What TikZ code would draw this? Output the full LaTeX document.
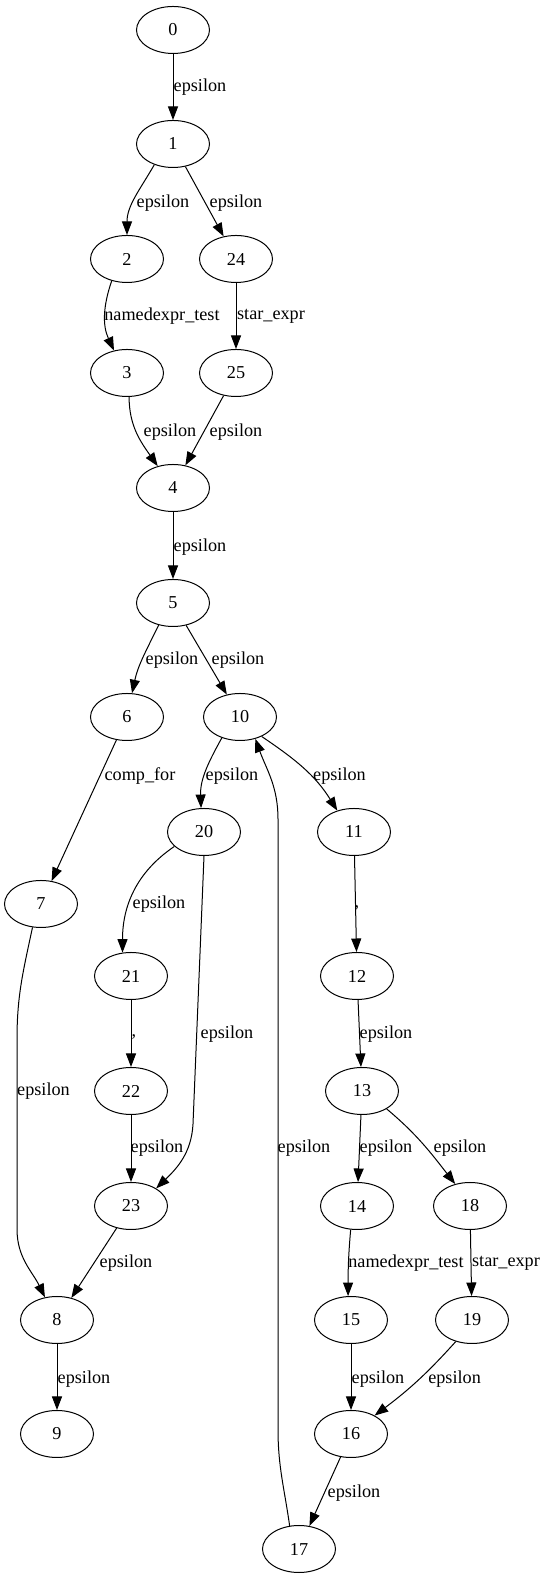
\documentclass[tikz,border=0pt]{standalone}
\usepackage{fontspec}
\setmainfont{Liberation Serif}
\usetikzlibrary{shapes.geometric, arrows.meta}

\begin{document}
\begin{tikzpicture}[x = 1pt, y = 1pt, font = \fontsize{18.2}{22}\selectfont,
    nfastate/.style = {ellipse, draw, line width = 1pt, minimum width = 73pt,
                       minimum height = 47pt, inner sep = 0pt},
    elabel/.style = {inner sep = 0pt},
    trans/.style = {line width = 1pt, -{Triangle[length = 13.5pt, width = 10pt]}}]
        \useasboundingbox (0,0) rectangle (545,1579);
        \node[nfastate] (n0) at (173,1549) {0};
        \node[nfastate] (n1) at (173,1435) {1};
        \node[nfastate] (n2) at (127,1320) {2};
        \node[nfastate] (n24) at (236,1320) {24};
        \node[nfastate] (n3) at (127,1206) {3};
        \node[nfastate] (n25) at (236,1206) {25};
        \node[nfastate] (n4) at (173,1091) {4};
        \node[nfastate] (n5) at (173,976) {5};
        \node[nfastate] (n6) at (127,862) {6};
        \node[nfastate] (n10) at (240,862) {10};
        \node[nfastate] (n20) at (204,747) {20};
        \node[nfastate] (n11) at (354,747) {11};
        \node[nfastate] (n7) at (41,675) {7};
        \node[nfastate] (n21) at (131,603) {21};
        \node[nfastate] (n12) at (357,603) {12};
        \node[nfastate] (n22) at (131,488) {22};
        \node[nfastate] (n13) at (362,488) {13};
        \node[nfastate] (n23) at (131,373) {23};
        \node[nfastate] (n14) at (357,373) {14};
        \node[nfastate] (n18) at (470,373) {18};
        \node[nfastate] (n8) at (57,259) {8};
        \node[nfastate] (n15) at (351,259) {15};
        \node[nfastate] (n19) at (472,259) {19};
        \node[nfastate] (n9) at (57,145) {9};
        \node[nfastate] (n16) at (351,145) {16};
        \node[nfastate] (n17) at (299,30) {17};
        \foreach \a/\b in {n0/n1, n1/n24, n24/n25, n25/n4, n4/n5, n5/n10, n6/n7,
                           n21/n22, n22/n23, n11/n12, n12/n13, n13/n14, n23/n8,
                           n18/n19, n8/n9, n15/n16, n16/n17}
          \draw[trans] (\a) -- (\b);
        \draw[trans] (n1.228) to[out=240, in=90] (n2.north);
        \draw[trans] (n2.235) to[out=251, in=115] (n3.120);
        \draw[trans] (n3.275) to[out=270, in=125] (n4.125);
        \draw[trans] (n5.237) to[out=244, in=78] (n6.78);
        \draw[trans] (n10.229) to[out=241, in=92] (n20.97);
        \draw[trans] (n10.318) to[out=326, in=122] (n11.128);
        \draw[trans] (n20.206) to[out=214, in=90] (n21.110);
        \draw[trans] (n20.south) -- (193,455) to[out=267, in=44] (n23.35);
        \draw[trans] (n17.112) to[out=98, in=270] (278,150) --
                     (278,760) to[out=90, in=290] (n10.305);
        \draw[trans] (n7.250) to[out=258, in=90] (17,540) --
                     (17,350) to[out=270, in=116] (n8.118);
        \draw[trans] (n13.324) to[out=320, in=128] (n18.124);
        \draw[trans] (n14.255) to[out=265, in=90] (n15.97);
        \draw[trans] (n19.233) to[out=228, in=37] (n16.38);
        \foreach \x/\y/\t [count=\i] in {200/1492/epsilon, 163/1376/epsilon,
              236/1376/epsilon, 162/1263/namedexpr\_test, 271/1263/star\_expr,
              170/1147/epsilon, 236/1147/epsilon, 200/1032/epsilon,
              172/919/epsilon, 238/919/epsilon, 140/803/comp\_for,
              232/803/epsilon, 339.5/803/epsilon, 159/675/epsilon, 357/671/{,},
              227/545/epsilon, 134/542/{,}, 386/545/epsilon, 43.5/488/epsilon,
              157/431/epsilon, 304/431/epsilon, 386/431/epsilon, 460/431/epsilon,
              126/316/epsilon, 406/316/namedexpr\_test, 506/316/star\_expr,
              84/200/epsilon, 378/200/epsilon, 454.6/200/epsilon, 354/86/epsilon}
          \node[elabel] (lab\i) at (\x,\y) {\t};
      \end{tikzpicture}
\end{document}
